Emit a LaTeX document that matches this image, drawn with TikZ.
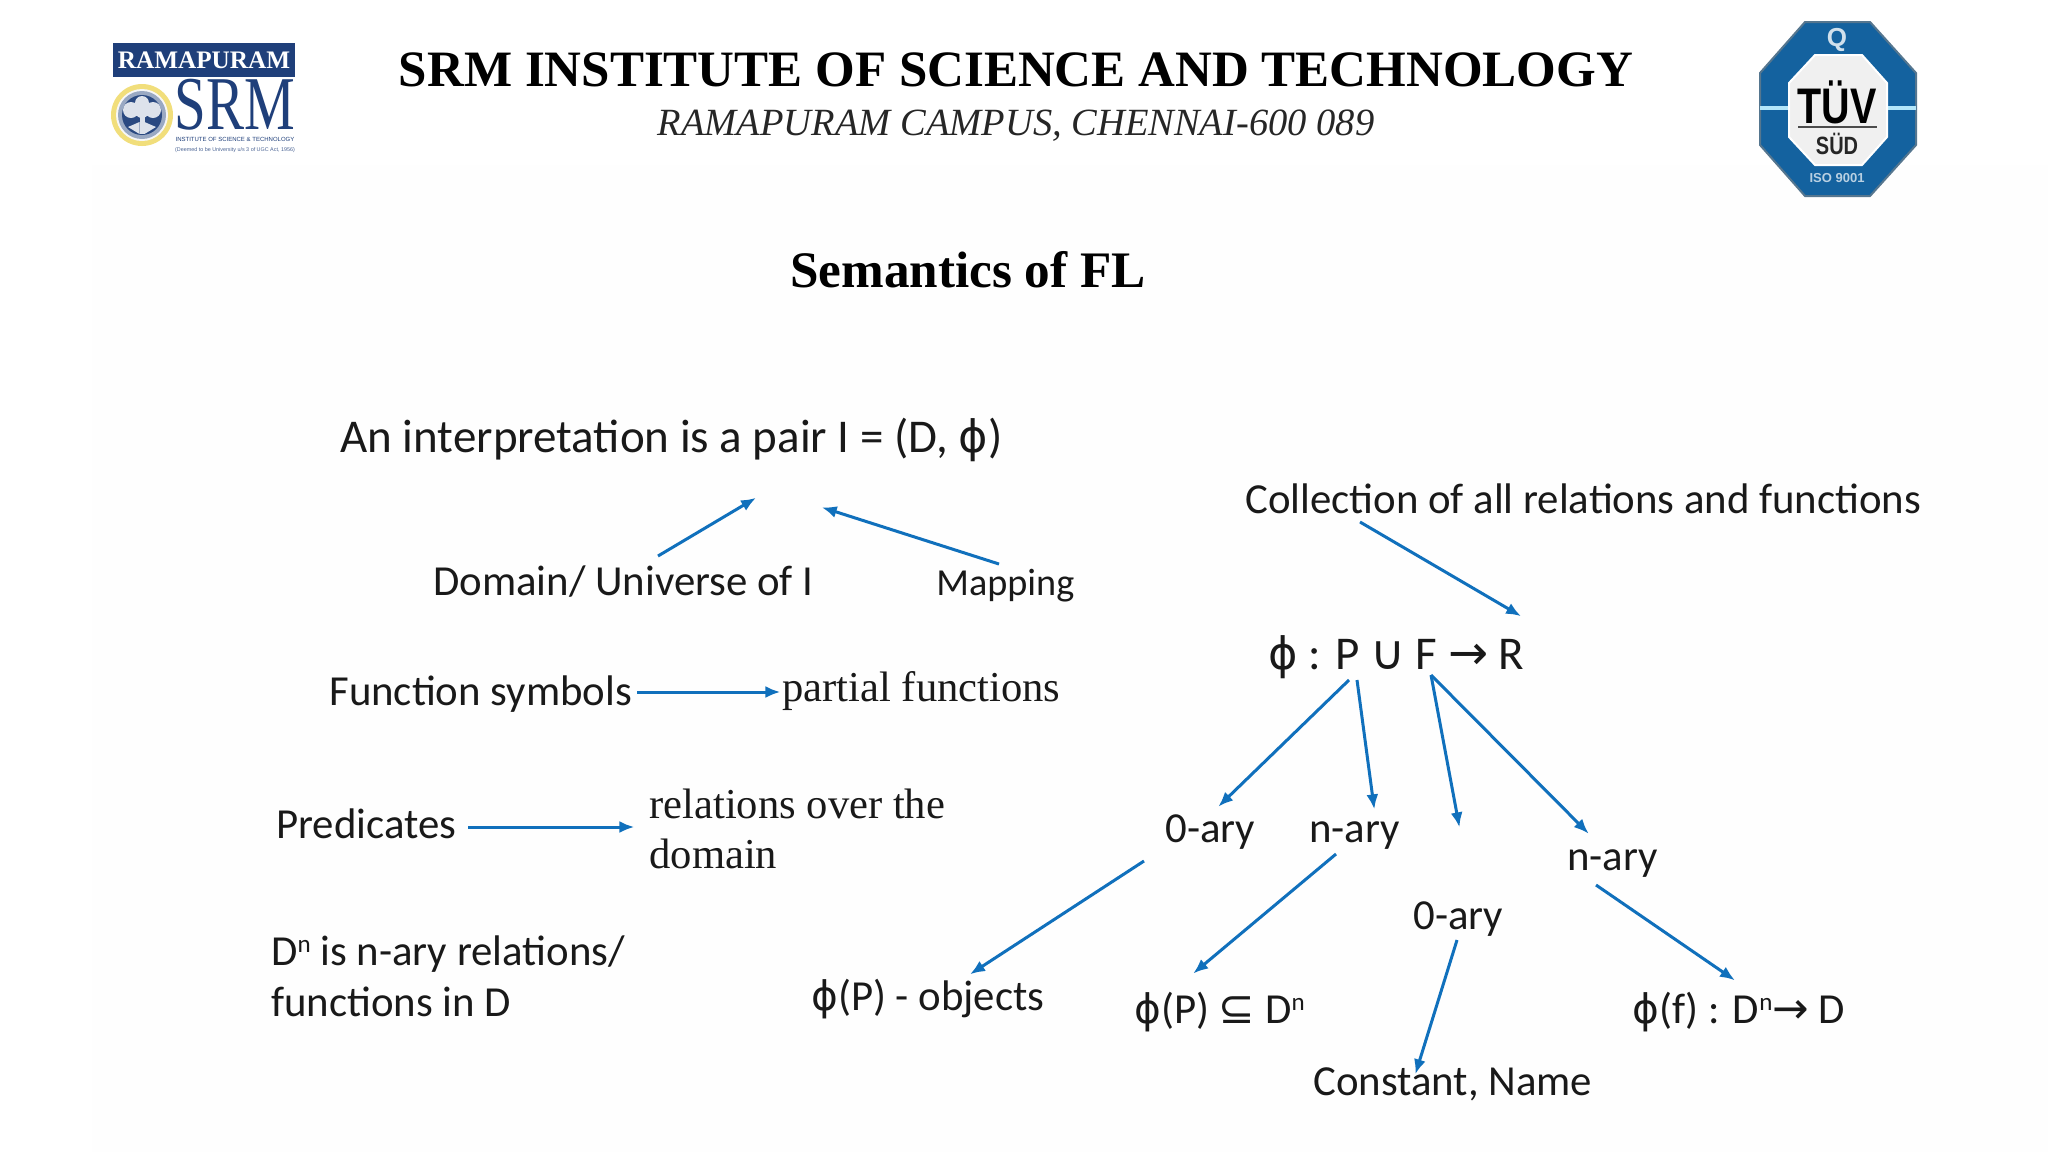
\documentclass[tikz,border=0pt]{standalone}
\usepackage{fontspec}
\setmainfont{Carlito}
\newfontfamily\tnr{Liberation Serif}
\newfontfamily\djv[Scale=0.95]{DejaVu Sans}
\newfontfamily\djsym[Scale=1.02]{DejaVu Sans}
\newfontfamily\lsans{Liberation Sans}
\usetikzlibrary{arrows.meta}
\definecolor{arrowblue}{HTML}{1070BC}
\definecolor{navy}{HTML}{1F3F7A}
\definecolor{tuvblue}{HTML}{14629F}
\newcommand{\phiglyph}{{\djv ϕ}}
\newcommand{\symb}[1]{{\djsym #1}}
\newcommand{\supn}{\raisebox{0.62ex}{\fontsize{12.5}{14}\selectfont n}}
\tikzset{
  x=0.5pt,y=-0.5pt,
  lbl/.style={anchor=base west,inner sep=0pt,text=black!90,font=\fontsize{21.4}{25}\selectfont},
  lblbig/.style={lbl,font=\fontsize{23.5}{27}\selectfont},
  lblsmall/.style={lbl,font=\fontsize{19.1}{23}\selectfont},
  serifl/.style={anchor=base west,inner sep=0pt,text=black!90,font=\tnr\fontsize{21.3}{25}\selectfont},
  head/.style={anchor=base,inner sep=0pt,text=black},
  arr/.style={-{Latex[length=7.5pt,width=6pt]},draw=arrowblue,line width=1.5pt,shorten >=-1.2pt},
  logot/.style={anchor=center,inner sep=0pt},
}
\begin{document}
\begin{tikzpicture}
\useasboundingbox (0,0) rectangle (2048,1152);
\fill[white] (0,0) rectangle (2048,1152);
\fill[black!0.5] (92,165) rectangle (2048,1152);
% headings
\node[head,font=\tnr\bfseries\fontsize{25.5}{30}\selectfont] (title) at (1016,86) {SRM INSTITUTE OF SCIENCE AND TECHNOLOGY};
\node[head,font=\tnr\itshape\fontsize{19.25}{23}\selectfont,text=black!85] (campus) at (1016,135) {RAMAPURAM CAMPUS, CHENNAI-600 089};
\node[head,font=\tnr\bfseries\fontsize{25.6}{30}\selectfont] (sem) at (968,287) {Semantics of FL};
% left logo
\fill[navy] (113,43) rectangle (295,77);
\node[logot,text=white,font=\tnr\bfseries\fontsize{12.6}{15}\selectfont] (ram) at (204,60) {RAMAPURAM};
\node[anchor=base,inner sep=0pt,text=navy,font=\tnr\fontsize{38}{40}\selectfont,xscale=0.75] (srm) at (235,129) {SRM};
\node[logot,text=navy,font=\lsans\fontsize{3}{3.5}\selectfont] (srma) at (235,139) {INSTITUTE OF SCIENCE \& TECHNOLOGY};
\node[logot,text=navy!80,font=\lsans\fontsize{2.7}{3.5}\selectfont] (srmb) at (235,150) {(Deemed to be University u/s 3 of UGC Act, 1956)};
\fill[fill=yellow!60!brown!60!white] (142,115) circle (31);
\fill[black!3] (142,115) circle (26);
\fill[navy!45] (142,115) circle (24);
\fill[navy!95] (142,115) circle (20);
\fill[white!85!navy] (142,103) circle (7) (131,110) circle (8) (153,110) circle (8) (142,111) circle (7);
\fill[white!85!navy] (139.5,112) rectangle (144.5,134);
\fill[white!85!navy] (128,127) -- (139.5,122) -- (139.5,134) -- cycle (156,127) -- (144.5,122) -- (144.5,134) -- cycle;
% TUV logo
\fill[tuvblue,draw=tuvblue!60!black!70,line width=1pt] (1805,22)--(1870,22)--(1916,73)--(1916,145)--(1870,196)--(1805,196)--(1760,145)--(1760,73)--cycle;
\draw[white!70!cyan,line width=1.6pt] (1760,108)--(1916,108);
\fill[black!6,draw=white,line width=1pt] (1815,55)--(1862,55)--(1887,83)--(1887,137)--(1862,165)--(1815,165)--(1789,137)--(1789,83)--cycle;
\node[logot,text=white!80!tuvblue,font=\lsans\bfseries\fontsize{13}{14}\selectfont] (q) at (1837,40) {Q};
\node[logot,text=black,font=\lsans\bfseries\fontsize{25}{27}\selectfont,xscale=0.79] (tuv) at (1837,102) {TÜV};
\draw[black!70,line width=1pt] (1798,127)--(1877,127);
\node[logot,text=black!85,font=\lsans\bfseries\fontsize{12.5}{14}\selectfont,xscale=0.8] (sud) at (1837,144) {SÜD};
\node[logot,text=white!70!tuvblue,font=\lsans\bfseries\fontsize{6.5}{8}\selectfont] (iso) at (1837,178) {ISO 9001};
% labels
\node[lblbig] (interp) at (340,452) {An interpretation is a pair I = (D, \phiglyph)};
\node[lbl] (coll) at (1245,513) {Collection of all relations and functions};
\node[lbl] (domain) at (433,595) {Domain/ Universe of I};
\node[lblsmall] (mapping) at (936,595) {Mapping};
\node[lbl] (fsym) at (329,705) {Function symbols};
\node[serifl] (partial) at (782,701) {partial functions};
\node[lbl] (pred) at (276,838) {Predicates};
\node[serifl] (rel1) at (649,818) {relations over the};
\node[serifl] (rel2) at (649,868) {domain};
\node[lbl] (dn1) at (271,965) {D\supn{} is n-ary relations/};
\node[lbl] (dn2) at (271,1016) {functions in D};
\node[lbl] (obj) at (811,1010) {\phiglyph(P) - objects};
\node[lbl] (za) at (1165,842) {0-ary};
\node[lbl] (na) at (1309,842) {n-ary};
\node[lbl] (nb) at (1567,870) {n-ary};
\node[lbl] (zb) at (1413,929) {0-ary};
\node[lblbig] (map) at (1268,669) {\phiglyph{} : P \symb{∪} F \symb{→} R};
\node[lbl] (sub) at (1134,1023) {\phiglyph(P) \symb{⊆} D\supn};
\node[lbl] (fn) at (1632,1023) {\phiglyph(f) : D\supn\symb{→} D};
\node[lbl] (const) at (1313,1095) {Constant, Name};
% arrow end points
\coordinate (a1s) at (658,556); \coordinate (a1e) at (754,499);
\coordinate (a2s) at (999,564); \coordinate (a2e) at (824,508);
\coordinate (a3s) at (637,692); \coordinate (a3e) at (778,692);
\coordinate (a4s) at (468,827); \coordinate (a4e) at (632,827);
\coordinate (a5s) at (1360,522); \coordinate (a5e) at (1519,615);
\coordinate (a6s) at (1349,680); \coordinate (a6e) at (1220,805);
\coordinate (a7s) at (1357,680); \coordinate (a7e) at (1374,807);
\coordinate (a8s) at (1431,675); \coordinate (a8e) at (1459,825);
\coordinate (a9e) at (1587,832);
\coordinate (a10s) at (1144,861); \coordinate (a10e) at (972,973);
\coordinate (a11s) at (1336,854); \coordinate (a11e) at (1195,972);
\coordinate (a12s) at (1457,940); \coordinate (a12e) at (1416,1072);
\coordinate (a13s) at (1596,885); \coordinate (a13e) at (1733,979);
\draw[arr] (a1s)--(a1e);
\draw[arr] (a2s)--(a2e);
\draw[arr] (a3s)--(a3e);
\draw[arr] (a4s)--(a4e);
\draw[arr] (a5s)--(a5e);
\draw[arr] (a6s)--(a6e);
\draw[arr] (a7s)--(a7e);
\draw[arr] (a8s)--(a8e);
\draw[arr] (a8s)--(a9e);
\draw[arr] (a10s)--(a10e);
\draw[arr] (a11s)--(a11e);
\draw[arr] (a12s)--(a12e);
\draw[arr] (a13s)--(a13e);
\end{tikzpicture}
\end{document}
